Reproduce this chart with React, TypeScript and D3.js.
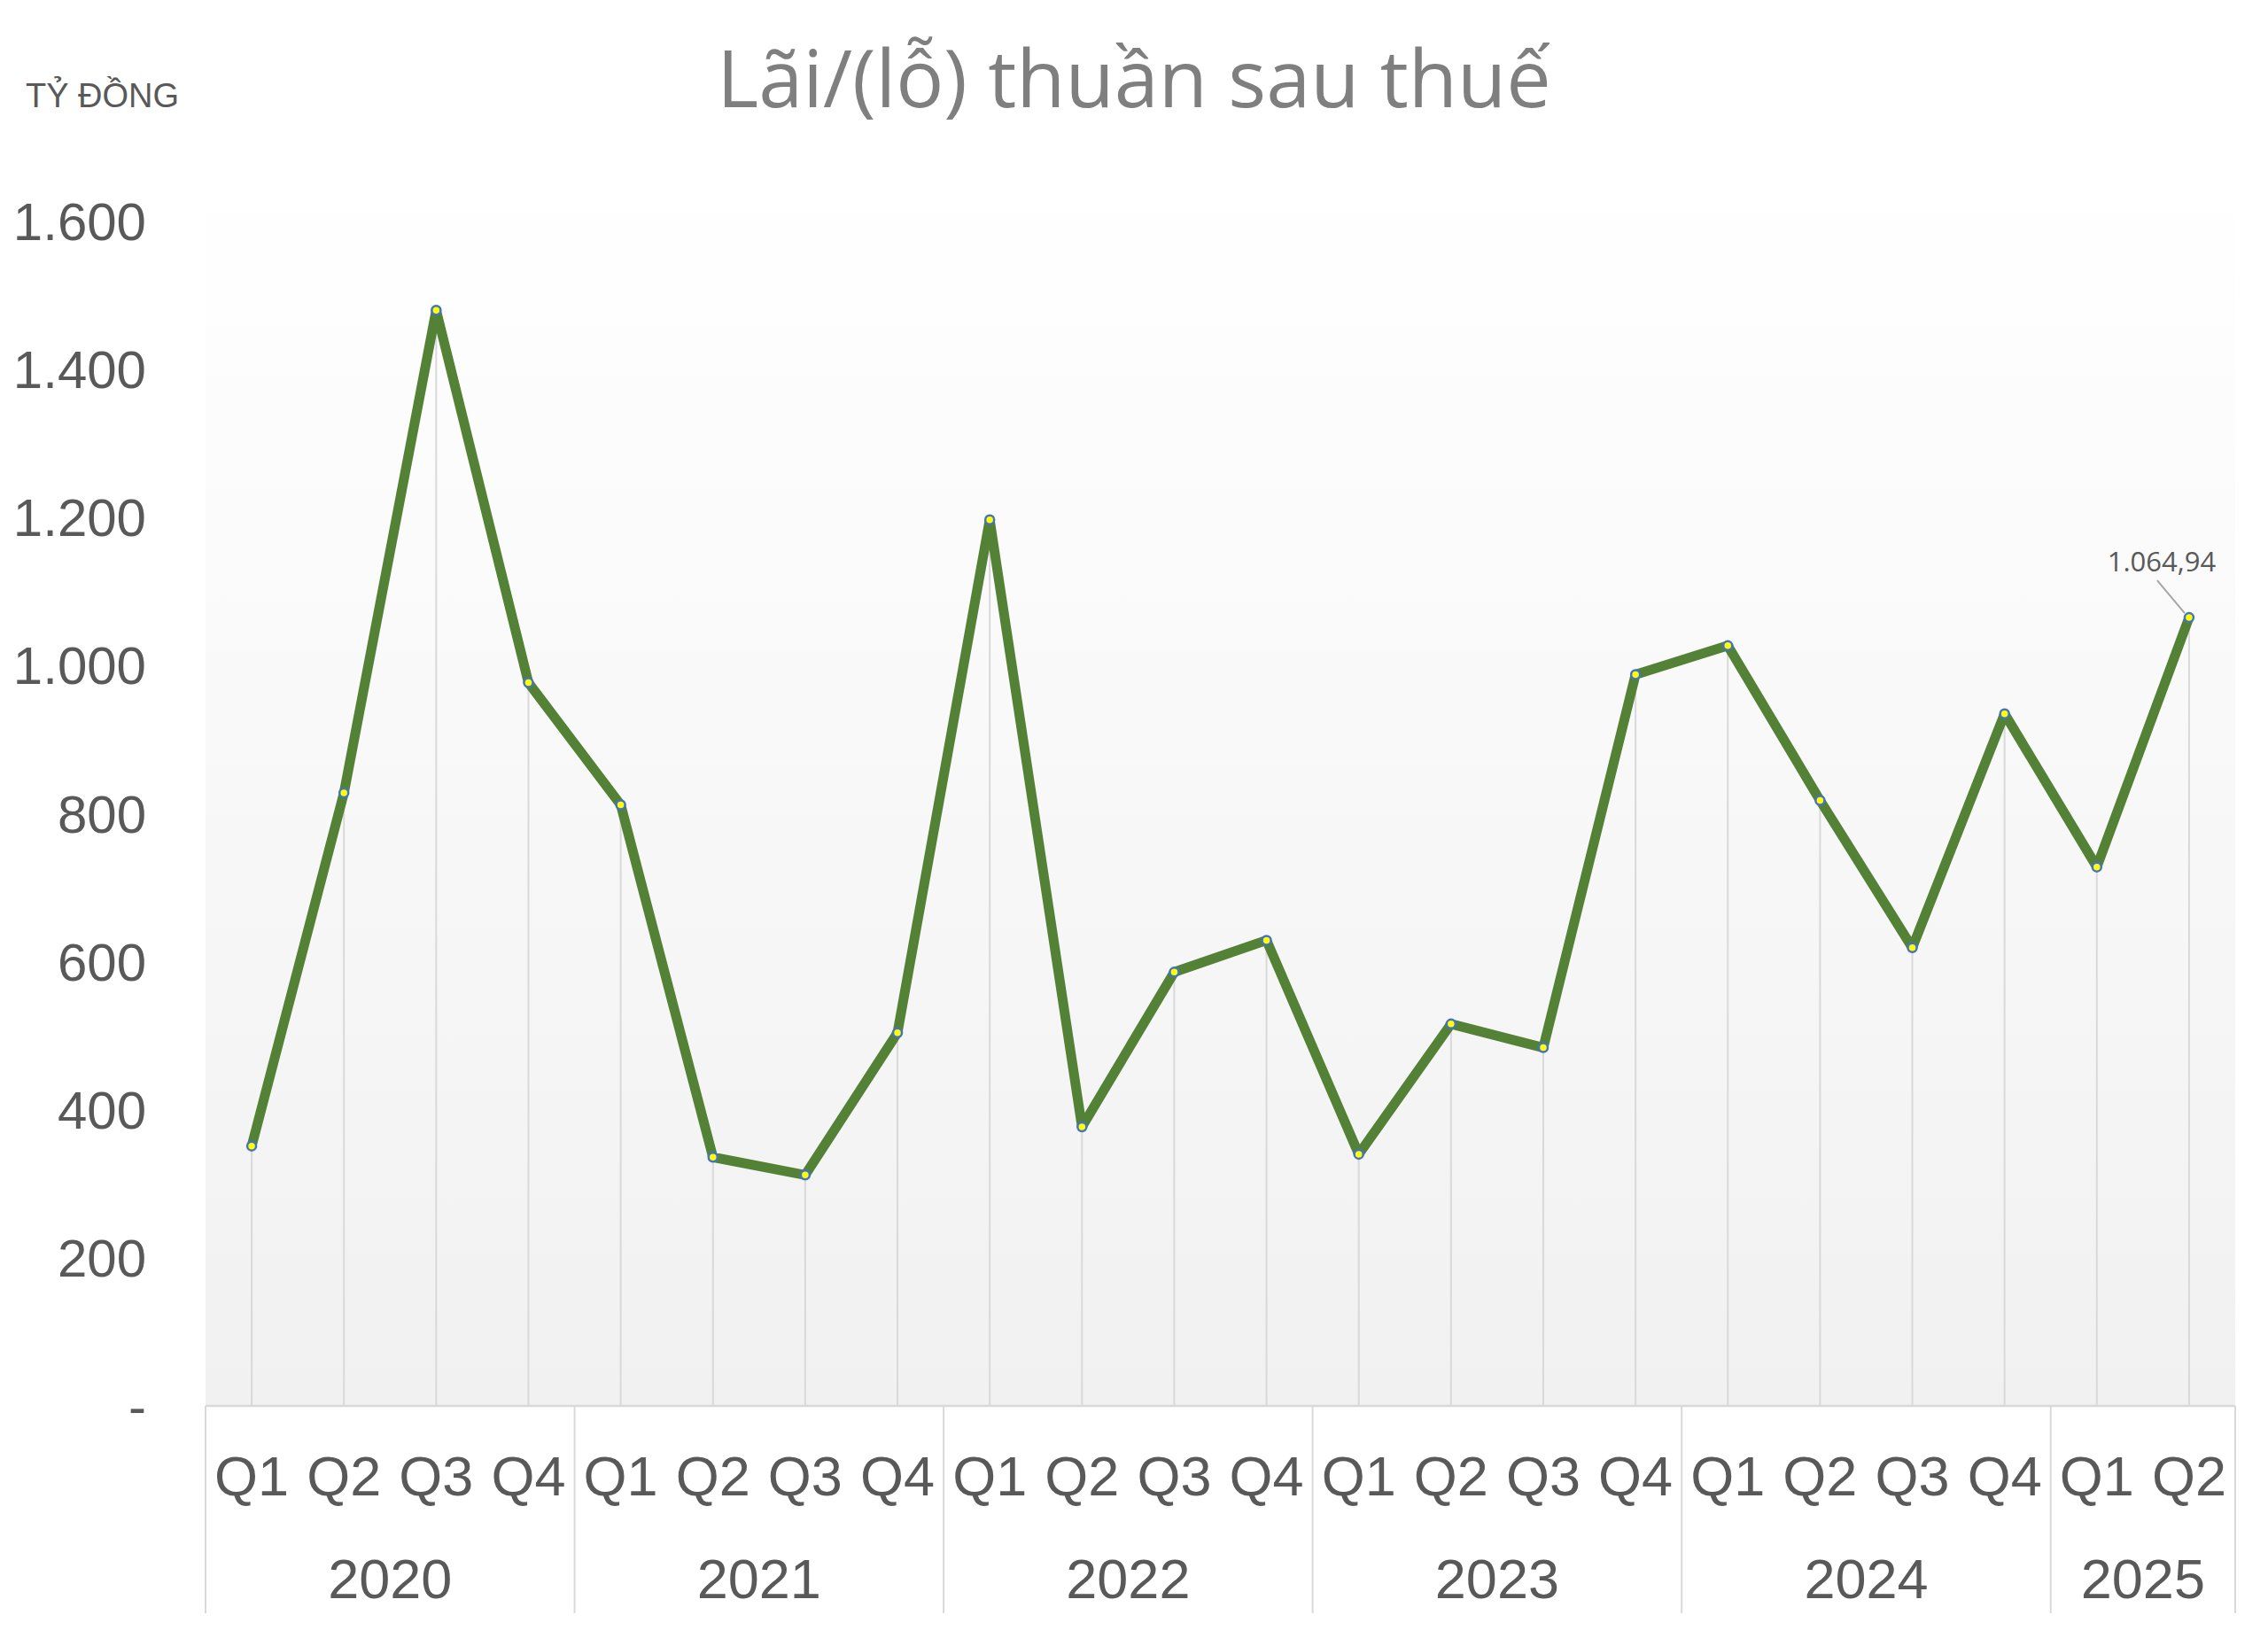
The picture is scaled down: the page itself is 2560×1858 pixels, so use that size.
import React, { useEffect, useRef } from 'react';
import * as d3 from 'd3';

// số liệu (tỷ đồng)
const years = ['2020', '2021', '2022', '2023', '2024', '2025'];
const quartersPerYear = [4, 4, 4, 4, 4, 2];
const quarterNames = ['Q1', 'Q2', 'Q3', 'Q4'];
const profit = [
  351, 828, 1480, 977,
  812, 336, 312, 504,
  1197, 377, 586, 629,
  340, 516, 484, 988,
  1027, 818, 619, 935,
  728, 1064.94,
];
const yTicks = [0, 200, 400, 600, 800, 1000, 1200, 1400, 1600];
const titleText = 'Lãi/(lỗ) thuần sau thuế';
const unitText = 'TỶ ĐỒNG';

const W = 2560;
const H = 1858;

const App: React.FC = () => {
  const svgRef = useRef<SVGSVGElement>(null);

  useEffect(() => {
    if (!svgRef.current) return;
    document.body.style.margin = '0';

    const svg = d3.select(svgRef.current);
    svg.selectAll('*').remove();

    const left = 232;
    const right = 2523;
    const bottom = 1587;
    const top = 250;

    const cats: { key: string; q: string; year: string }[] = [];
    years.forEach((yr, i) => {
      for (let k = 0; k < quartersPerYear[i]; k++) {
        cats.push({ key: `${yr}-${quarterNames[k]}`, q: quarterNames[k], year: yr });
      }
    });

    const x = d3.scaleBand<string>()
      .domain(cats.map(c => c.key))
      .range([left, right])
      .padding(0);
    const y = d3.scaleLinear().domain([0, 1600]).range([bottom, top]);

    const loc = d3.formatLocale({ decimal: ',', thousands: '.', grouping: [3], currency: ['', ''] });
    const fmtTick = (v: number) => (v === 0 ? '-' : loc.format(',.0f')(v));
    const fmtLabel = loc.format(',.2f');

    const cx = (i: number) => (x(cats[i].key) || 0) + x.bandwidth() / 2;

    // nền vùng vẽ
    const defs = svg.append('defs');
    const grad = defs.append('linearGradient')
      .attr('id', 'plotBg')
      .attr('x1', 0).attr('y1', 0).attr('x2', 0).attr('y2', 1);
    grad.append('stop').attr('offset', '0%').attr('stop-color', '#ffffff');
    grad.append('stop').attr('offset', '100%').attr('stop-color', '#f1f1f1');

    svg.append('rect')
      .attr('x', left)
      .attr('y', 200)
      .attr('width', right - left)
      .attr('height', bottom - 200)
      .attr('fill', 'url(#plotBg)');

    // tiêu đề
    svg.append('text')
      .attr('x', 1280)
      .attr('y', 121)
      .attr('text-anchor', 'middle')
      .attr('font-family', '"Open Sans", sans-serif')
      .attr('font-size', 90)
      .attr('fill', '#7f7f7f')
      .text(titleText);

    svg.append('text')
      .attr('x', 29)
      .attr('y', 121)
      .attr('font-family', '"Liberation Sans", Arial, sans-serif')
      .attr('font-size', 38)
      .attr('fill', '#595959')
      .text(unitText);

    // trục tung
    svg.append('g')
      .selectAll('text')
      .data(yTicks)
      .enter()
      .append('text')
      .attr('x', 165)
      .attr('y', d => y(d))
      .attr('dy', '0.35em')
      .attr('text-anchor', 'end')
      .attr('font-family', '"Liberation Sans", Arial, sans-serif')
      .attr('font-size', 60)
      .attr('fill', '#595959')
      .text(d => fmtTick(d));

    // đường gióng xuống trục
    svg.append('g')
      .selectAll('line')
      .data(profit)
      .enter()
      .append('line')
      .attr('x1', (d, i) => cx(i))
      .attr('x2', (d, i) => cx(i))
      .attr('y1', d => y(d))
      .attr('y2', bottom)
      .attr('stroke', '#d9d9d9')
      .attr('stroke-width', 2);

    // trục hoành nhiều cấp
    const axisG = svg.append('g');
    axisG.append('line')
      .attr('x1', left).attr('x2', right)
      .attr('y1', bottom).attr('y2', bottom)
      .attr('stroke', '#d9d9d9')
      .attr('stroke-width', 2.5);

    let start = 0;
    const groups = years.map((yr, i) => {
      const g = { year: yr, from: start, to: start + quartersPerYear[i] - 1 };
      start += quartersPerYear[i];
      return g;
    });

    const edges = [left, ...groups.map(g => (x(cats[g.to].key) || 0) + x.bandwidth())];
    axisG.selectAll('line.sep')
      .data(edges)
      .enter()
      .append('line')
      .attr('class', 'sep')
      .attr('x1', d => d).attr('x2', d => d)
      .attr('y1', bottom).attr('y2', 1821)
      .attr('stroke', '#d9d9d9')
      .attr('stroke-width', 2);

    axisG.selectAll('text.q')
      .data(cats)
      .enter()
      .append('text')
      .attr('class', 'q')
      .attr('x', (d, i) => cx(i))
      .attr('y', 1666)
      .attr('dy', '0.35em')
      .attr('text-anchor', 'middle')
      .attr('font-family', '"Liberation Sans", Arial, sans-serif')
      .attr('font-size', 63)
      .attr('fill', '#595959')
      .text(d => d.q);

    axisG.selectAll('text.yr')
      .data(groups)
      .enter()
      .append('text')
      .attr('class', 'yr')
      .attr('x', d => ((x(cats[d.from].key) || 0) + (x(cats[d.to].key) || 0) + x.bandwidth()) / 2)
      .attr('y', 1782)
      .attr('dy', '0.35em')
      .attr('text-anchor', 'middle')
      .attr('font-family', '"Liberation Sans", Arial, sans-serif')
      .attr('font-size', 63)
      .attr('fill', '#595959')
      .text(d => d.year);

    // đường lợi nhuận
    const line = d3.line<number>()
      .x((d, i) => cx(i))
      .y(d => y(d));

    svg.append('path')
      .datum(profit)
      .attr('d', line)
      .attr('fill', 'none')
      .attr('stroke', '#538135')
      .attr('stroke-width', 11)
      .attr('stroke-linejoin', 'round');

    svg.append('g')
      .selectAll('circle')
      .data(profit)
      .enter()
      .append('circle')
      .attr('cx', (d, i) => cx(i))
      .attr('cy', d => y(d))
      .attr('r', 5)
      .attr('fill', '#ffff00')
      .attr('stroke', '#4472c4')
      .attr('stroke-width', 2.5);

    // nhãn điểm cuối
    const li = profit.length - 1;
    const lx = cx(li);
    const ly = y(profit[li]);
    svg.append('line')
      .attr('x1', lx - 36).attr('y1', ly - 42)
      .attr('x2', lx - 5).attr('y2', ly - 5)
      .attr('stroke', '#a6a6a6')
      .attr('stroke-width', 2);
    svg.append('text')
      .attr('x', lx - 31)
      .attr('y', ly - 52)
      .attr('text-anchor', 'middle')
      .attr('font-family', '"Open Sans", sans-serif')
      .attr('font-size', 31)
      .attr('fill', '#595959')
      .text(fmtLabel(profit[li]));
  }, []);

  return (
    <svg
      ref={svgRef}
      width={W}
      height={H}
      style={{ display: 'block', background: '#ffffff' }}
    />
  );
};

export default App;
